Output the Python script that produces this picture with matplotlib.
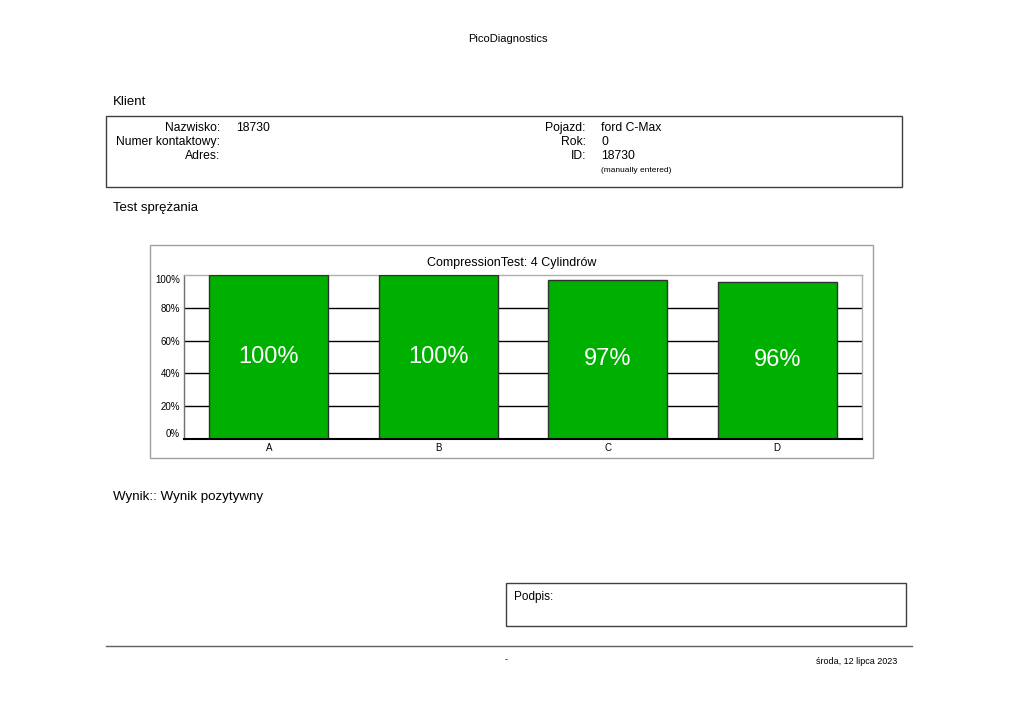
import matplotlib.pyplot as plt
from matplotlib.patches import Rectangle

plt.rcParams['font.family'] = ['Liberation Sans', 'DejaVu Sans']

# ==========================================================
# Report data
# ==========================================================
cylinders = ["A", "B", "C", "D"]
compression = [100, 100, 97, 96]
y_ticks = [0, 20, 40, 60, 80, 100]

client_labels = ["Nazwisko:", "Numer kontaktowy:", "Adres:"]
client_values = ["18730", "", ""]
vehicle_labels = ["Pojazd:", "Rok:", "ID:"]
vehicle_values = ["ford C-Max", "0", "18730"]

W, H = 1023, 724
fig = plt.figure(figsize=(W / 100, H / 100), dpi=100)

# page layer in pixel coordinates
page = fig.add_axes([0, 0, 1, 1])
page.set_xlim(0, W)
page.set_ylim(H, 0)
page.axis("off")

page.text(508, 39, "PicoDiagnostics", fontsize=8, ha="center", va="center")

page.text(113, 102, "Klient", fontsize=9.5, ha="left", va="center")
page.add_patch(Rectangle((106, 116), 796, 71, fill=False, ec="#404040", lw=1))

for i, (lab, val) in enumerate(zip(client_labels, client_values)):
    y = 128 + i * 14
    page.text(220, y, lab, fontsize=8.75, ha="right", va="center")
    page.text(236, y, val, fontsize=8.75, ha="left", va="center")

for i, (lab, val) in enumerate(zip(vehicle_labels, vehicle_values)):
    y = 128 + i * 14
    page.text(586, y, lab, fontsize=8.75, ha="right", va="center")
    page.text(601, y, val, fontsize=8.75, ha="left", va="center")
page.text(601, 170, "(manually entered)", fontsize=6, ha="left", va="center")

page.text(113, 208, "Test sprężania", fontsize=9.5, ha="left", va="center")

# chart frame
page.add_patch(Rectangle((150, 245), 723, 213, fill=False, ec="#a0a0a0", lw=1))
page.text(512, 263, "CompressionTest: 4 Cylindrów", fontsize=9, ha="center", va="center")

page.text(113, 497, "Wynik:: Wynik pozytywny", fontsize=9.6, ha="left", va="center")

# signature box
page.add_patch(Rectangle((506, 583), 400, 43, fill=False, ec="#404040", lw=1))
page.text(514, 597, "Podpis:", fontsize=8.5, ha="left", va="center")

# footer
page.plot([106, 912], [646, 646], color="#606060", lw=1)
page.text(506, 660, "-", fontsize=6.5, ha="center", va="center")
page.text(897, 661, "środa, 12 lipca 2023", fontsize=6.5, ha="right", va="center")

# ==========================================================
# Bar chart
# ==========================================================
left, right, top, bottom = 184, 862, 275, 439
ax = fig.add_axes([left / W, 1 - bottom / H, (right - left) / W, (bottom - top) / H])

x = list(range(len(cylinders)))
bars = ax.bar(x, compression, width=0.7, color="#00b000", edgecolor="#303030",
              linewidth=1, zorder=3)
for b, v in zip(bars, compression):
    ax.text(b.get_x() + b.get_width() / 2, v / 2, f"{v}%", color="white",
            fontsize=17, ha="center", va="center", zorder=4)

ax.set_xlim(-0.5, len(cylinders) - 0.5)
ax.set_ylim(0, 100)
ax.set_xticks(x)
ax.set_xticklabels(cylinders, fontsize=7)
ax.set_yticks(y_ticks)
ax.set_yticklabels([f"{t}%" for t in y_ticks], fontsize=7)
ax.tick_params(length=0, pad=3)
ylabs = ax.get_yticklabels()
ylabs[0].set_va("bottom")
ylabs[-1].set_va("top")
for t in y_ticks[1:-1]:
    ax.axhline(t, color="black", lw=1, zorder=1)

for s in ["top", "right", "left"]:
    ax.spines[s].set_color("#b0b0b0")
    ax.spines[s].set_linewidth(1)
ax.spines["left"].set_color("#707070")
ax.spines["bottom"].set_color("black")
ax.spines["bottom"].set_linewidth(1.5)
ax.spines["bottom"].set_zorder(5)

fig.savefig("out.png", dpi=100)
